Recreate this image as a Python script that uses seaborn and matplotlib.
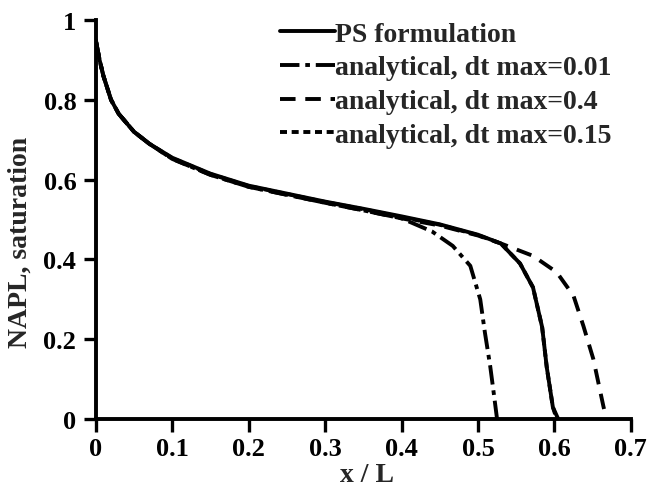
import numpy as np
import pandas as pd
import seaborn as sb
from matplotlib import pyplot as plt

# values
x_ps = [0, 0.005, 0.01, 0.02, 0.03, 0.05, 0.07, 0.1, 0.15, 0.2, 0.25, 0.3, 0.35, 0.4, 0.45, 0.5,
        0.53, 0.555, 0.572, 0.584, 0.59, 0.598, 0.605]
y_ps = [0.95, 0.9, 0.86, 0.80, 0.765, 0.72, 0.69, 0.655, 0.615, 0.585, 0.565, 0.545, 0.527, 0.508, 0.488, 0.462,
        0.44, 0.39, 0.33, 0.23, 0.13, 0.03, 0.0]

x_dt001 = [0, 0.005, 0.01, 0.02, 0.03, 0.05, 0.07, 0.1, 0.15, 0.2, 0.25, 0.3, 0.35, 0.4, 0.44,
           0.467, 0.49, 0.503, 0.509, 0.516, 0.521, 0.525]
y_dt001 = [0.95, 0.9, 0.86, 0.80, 0.765, 0.72, 0.69, 0.652, 0.612, 0.582, 0.562, 0.542, 0.523, 0.503, 0.47,
           0.434, 0.384, 0.30, 0.218, 0.133, 0.06, 0.0]

x_dt04 = [0, 0.005, 0.01, 0.02, 0.03, 0.05, 0.07, 0.1, 0.15, 0.2, 0.25, 0.3, 0.35, 0.4, 0.45, 0.5,
          0.53, 0.572, 0.603, 0.625, 0.638, 0.651, 0.664, 0.668]
y_dt04 = [0.95, 0.9, 0.86, 0.80, 0.765, 0.72, 0.69, 0.652, 0.612, 0.582, 0.562, 0.542, 0.523, 0.503, 0.485, 0.46,
          0.44, 0.409, 0.368, 0.309, 0.233, 0.15, 0.033, 0.0]

x_dt015 = [0, 0.005, 0.01, 0.02, 0.03, 0.05, 0.07, 0.1, 0.15, 0.2, 0.25, 0.3, 0.35, 0.4, 0.45, 0.5,
           0.53, 0.555, 0.572, 0.584, 0.59, 0.598, 0.603]
y_dt015 = [0.95, 0.9, 0.86, 0.80, 0.765, 0.72, 0.69, 0.654, 0.614, 0.584, 0.564, 0.544, 0.526, 0.506, 0.487, 0.461,
           0.44, 0.39, 0.33, 0.23, 0.13, 0.03, 0.0]

sb.set_style('ticks')
plt.rcParams['font.family'] = ['Liberation Serif', 'DejaVu Serif']
plt.rcParams['font.weight'] = 'bold'

fig = plt.figure(figsize=(6.47, 4.89), dpi=100)
ax = fig.add_axes([0.148, 0.141, 0.827, 0.816])

series = [
    ('PS formulation', x_ps, y_ps, '-'),
    ('analytical, dt max=0.01', x_dt001, y_dt001, (0, (5, 1.5, 1.2, 1.5))),
    ('analytical, dt max=0.4', x_dt04, y_dt04, (0, (4, 2.5))),
    ('analytical, dt max=0.15', x_dt015, y_dt015, (0, (1.8, 1.2))),
]
for name, xs, ys, ls in series:
    df = pd.DataFrame({'x': xs, 'y': ys})
    sb.lineplot(data=df, x='x', y='y', ax=ax, color='black', linewidth=2.8,
                linestyle=ls, label=name, sort=False)

ax.set_xlim(0, 0.7)
ax.set_ylim(0, 1)
ax.set_xticks(np.arange(0, 0.71, 0.1))
ax.set_xticklabels(['0', '0.1', '0.2', '0.3', '0.4', '0.5', '0.6', '0.7'])
ax.set_yticks([0, 0.2, 0.4, 0.6, 0.8, 1])
ax.set_yticklabels(['0', '0.2', '0.4', '0.6', '0.8', '1'])
ax.tick_params(direction='out', length=9, width=2.4, labelsize=19, colors='black')
ax.tick_params(axis='x', pad=4)
ax.tick_params(axis='y', pad=5)
for lab in ax.get_xticklabels() + ax.get_yticklabels():
    lab.set_fontweight('bold')
for s in ['left', 'bottom']:
    ax.spines[s].set_linewidth(2.8)
    ax.spines[s].set_color('black')
sb.despine(ax=ax)
ax.set_xlabel('x / L', fontsize=20, fontweight='bold')
ax.set_ylabel('NAPL, saturation', fontsize=20, fontweight='bold')
ax.xaxis.set_label_coords(0.507, -0.108)
ax.yaxis.set_label_coords(-0.118, 0.446)

leg = ax.legend(loc='upper left', bbox_to_anchor=(0.344, 0.997), frameon=False, fontsize=20,
                handlelength=2.0, handletextpad=0.0, labelspacing=0.3, borderaxespad=0.0,
                borderpad=0.0)
for t in leg.get_texts():
    t.set_fontweight('bold')

plt.savefig('out.png', dpi=100)
